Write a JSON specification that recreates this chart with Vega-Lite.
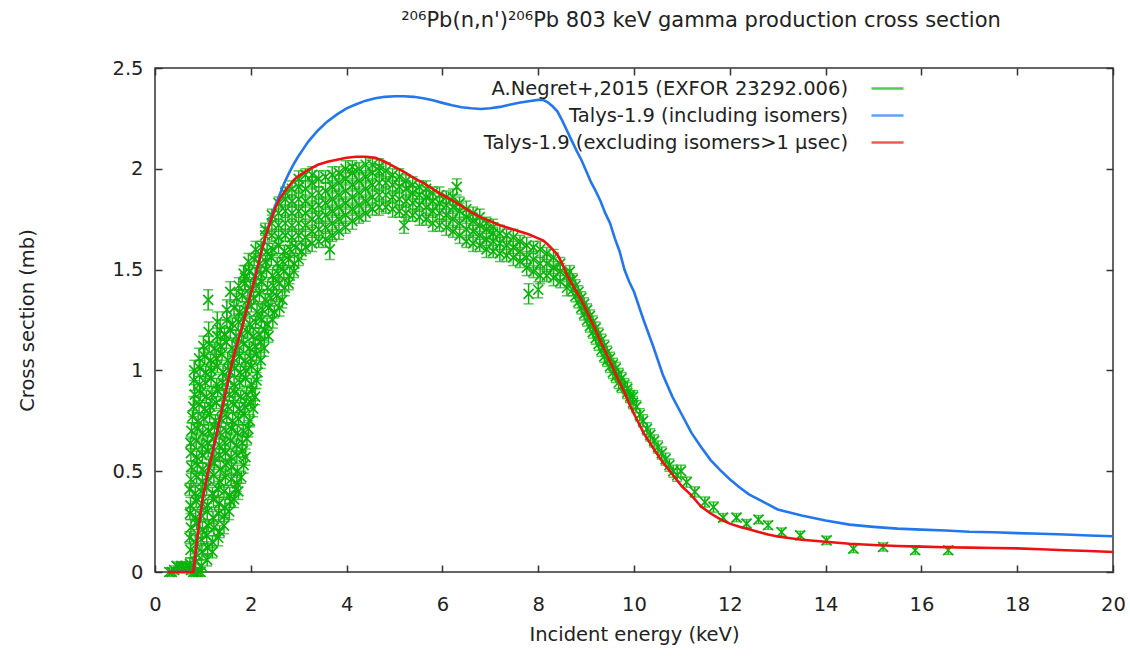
{
"$schema": "https://vega.github.io/schema/vega-lite/v6.json",
"width": 958, "height": 504,
"autosize": {"type": "none"},
"padding": {"left": 155, "top": 68, "right": 17, "bottom": 84},
"background": "white",
"title": {"text": "²⁰⁶Pb(n,n')²⁰⁶Pb 803 keV gamma production cross section", "anchor": "middle", "dx": 67, "offset": 27, "font": "DejaVu Sans", "fontSize": 21, "fontWeight": "normal", "color": "#222"},
"config": {"view": {"stroke": "#333", "strokeWidth": 1.5}, "axis": {"grid": false, "domain": false, "tickColor": "#333", "tickWidth": 1.5, "labelFont": "DejaVu Sans", "labelFontSize": 19.5, "labelColor": "#222", "titleFont": "DejaVu Sans", "titleFontSize": 19.5, "titleFontWeight": "normal", "titleColor": "#222"}},
"datasets": {
"exp": [
{"x":0.3,"y":0,"e":0.02},{"x":0.35,"y":0,"e":0.02},{"x":0.4,"y":0.01,"e":0.02},{"x":0.45,"y":0.03,"e":0.02},{"x":0.5,"y":0.02,"e":0.02},{"x":0.55,"y":0.03,"e":0.02},{"x":0.6,"y":0.02,"e":0.02},{"x":0.65,"y":0.03,"e":0.02},{"x":0.7,"y":0.02,"e":0.02},{"x":0.75,"y":0.01,"e":0.02},{"x":0.8,"y":0,"e":0.02},{"x":0.85,"y":0,"e":0.02},{"x":0.9,"y":0,"e":0.02},{"x":0.95,"y":0,"e":0.02},
{"x":0.73,"y":0.04,"e":0.03},{"x":0.85,"y":0.05,"e":0.04},{"x":0.97,"y":0.03,"e":0.03},{"x":1.09,"y":0.06,"e":0.03},
{"x":0.74,"y":0.11,"e":0.04},{"x":0.86,"y":0.09,"e":0.03},{"x":0.98,"y":0.1,"e":0.04},{"x":1.1,"y":0.12,"e":0.03},{"x":1.2,"y":0.1,"e":0.03},
{"x":0.72,"y":0.17,"e":0.03},{"x":0.84,"y":0.15,"e":0.04},{"x":0.96,"y":0.16,"e":0.03},{"x":1.08,"y":0.18,"e":0.04},{"x":1.2,"y":0.15,"e":0.03},{"x":1.32,"y":0.17,"e":0.04},
{"x":0.75,"y":0.22,"e":0.04},{"x":0.87,"y":0.24,"e":0.03},{"x":0.99,"y":0.21,"e":0.04},{"x":1.11,"y":0.23,"e":0.03},{"x":1.23,"y":0.22,"e":0.04},{"x":1.35,"y":0.2,"e":0.03},{"x":1.44,"y":0.23,"e":0.04},
{"x":0.73,"y":0.29,"e":0.03},{"x":0.85,"y":0.27,"e":0.04},{"x":0.97,"y":0.28,"e":0.03},{"x":1.09,"y":0.3,"e":0.04},{"x":1.21,"y":0.27,"e":0.03},{"x":1.33,"y":0.29,"e":0.04},{"x":1.45,"y":0.28,"e":0.03},{"x":1.55,"y":0.3,"e":0.04},
{"x":0.74,"y":0.33,"e":0.04},{"x":0.86,"y":0.35,"e":0.03},{"x":0.98,"y":0.34,"e":0.04},{"x":1.1,"y":0.33,"e":0.03},{"x":1.22,"y":0.36,"e":0.04},{"x":1.34,"y":0.34,"e":0.03},{"x":1.46,"y":0.32,"e":0.04},{"x":1.58,"y":0.35,"e":0.03},{"x":1.65,"y":0.36,"e":0.04},
{"x":0.72,"y":0.41,"e":0.03},{"x":0.84,"y":0.39,"e":0.04},{"x":0.96,"y":0.4,"e":0.03},{"x":1.08,"y":0.42,"e":0.04},{"x":1.2,"y":0.39,"e":0.03},{"x":1.32,"y":0.41,"e":0.04},{"x":1.44,"y":0.4,"e":0.03},{"x":1.56,"y":0.38,"e":0.04},{"x":1.68,"y":0.41,"e":0.03},{"x":1.74,"y":0.4,"e":0.04},
{"x":0.75,"y":0.46,"e":0.04},{"x":0.87,"y":0.47,"e":0.03},{"x":0.99,"y":0.45,"e":0.04},{"x":1.11,"y":0.46,"e":0.03},{"x":1.23,"y":0.48,"e":0.04},{"x":1.35,"y":0.45,"e":0.03},{"x":1.47,"y":0.47,"e":0.04},{"x":1.59,"y":0.46,"e":0.03},{"x":1.71,"y":0.44,"e":0.04},{"x":1.8,"y":0.47,"e":0.03},
{"x":0.76,"y":0.52,"e":0.03},{"x":0.88,"y":0.53,"e":0.04},{"x":1.0,"y":0.51,"e":0.03},{"x":1.12,"y":0.52,"e":0.04},{"x":1.24,"y":0.54,"e":0.03},{"x":1.36,"y":0.51,"e":0.04},{"x":1.48,"y":0.53,"e":0.03},{"x":1.6,"y":0.52,"e":0.04},{"x":1.72,"y":0.5,"e":0.03},{"x":1.85,"y":0.53,"e":0.04},
{"x":0.75,"y":0.59,"e":0.04},{"x":0.87,"y":0.57,"e":0.03},{"x":0.99,"y":0.58,"e":0.04},{"x":1.11,"y":0.6,"e":0.03},{"x":1.23,"y":0.57,"e":0.04},{"x":1.35,"y":0.58,"e":0.03},{"x":1.47,"y":0.59,"e":0.04},{"x":1.59,"y":0.57,"e":0.03},{"x":1.71,"y":0.58,"e":0.04},{"x":1.83,"y":0.6,"e":0.03},{"x":1.89,"y":0.57,"e":0.04},
{"x":0.74,"y":0.64,"e":0.03},{"x":0.86,"y":0.65,"e":0.04},{"x":0.98,"y":0.63,"e":0.03},{"x":1.1,"y":0.64,"e":0.04},{"x":1.22,"y":0.66,"e":0.03},{"x":1.34,"y":0.63,"e":0.04},{"x":1.46,"y":0.64,"e":0.03},{"x":1.58,"y":0.65,"e":0.04},{"x":1.7,"y":0.63,"e":0.03},{"x":1.82,"y":0.64,"e":0.04},{"x":1.92,"y":0.66,"e":0.03},
{"x":0.76,"y":0.7,"e":0.04},{"x":0.88,"y":0.71,"e":0.03},{"x":1.0,"y":0.69,"e":0.04},{"x":1.12,"y":0.7,"e":0.03},{"x":1.24,"y":0.72,"e":0.04},{"x":1.36,"y":0.69,"e":0.03},{"x":1.48,"y":0.7,"e":0.04},{"x":1.6,"y":0.71,"e":0.03},{"x":1.72,"y":0.69,"e":0.04},{"x":1.84,"y":0.7,"e":0.03},{"x":1.95,"y":0.71,"e":0.04},
{"x":0.78,"y":0.77,"e":0.03},{"x":0.9,"y":0.75,"e":0.04},{"x":1.02,"y":0.76,"e":0.03},{"x":1.14,"y":0.78,"e":0.04},{"x":1.26,"y":0.75,"e":0.03},{"x":1.38,"y":0.76,"e":0.04},{"x":1.5,"y":0.77,"e":0.03},{"x":1.62,"y":0.75,"e":0.04},{"x":1.74,"y":0.76,"e":0.03},{"x":1.86,"y":0.78,"e":0.04},{"x":1.98,"y":0.75,"e":0.03},
{"x":0.8,"y":0.82,"e":0.05},{"x":0.92,"y":0.83,"e":0.04},{"x":1.04,"y":0.81,"e":0.03},{"x":1.16,"y":0.82,"e":0.04},{"x":1.28,"y":0.84,"e":0.03},{"x":1.4,"y":0.81,"e":0.04},{"x":1.52,"y":0.82,"e":0.03},{"x":1.64,"y":0.83,"e":0.04},{"x":1.76,"y":0.81,"e":0.03},{"x":1.88,"y":0.82,"e":0.04},{"x":2.0,"y":0.84,"e":0.03},{"x":2.05,"y":0.81,"e":0.04},
{"x":0.83,"y":0.88,"e":0.05},{"x":0.95,"y":0.89,"e":0.04},{"x":1.07,"y":0.87,"e":0.03},{"x":1.19,"y":0.88,"e":0.04},{"x":1.31,"y":0.9,"e":0.03},{"x":1.43,"y":0.87,"e":0.04},{"x":1.55,"y":0.88,"e":0.03},{"x":1.67,"y":0.89,"e":0.04},{"x":1.79,"y":0.87,"e":0.03},{"x":1.91,"y":0.88,"e":0.04},{"x":2.03,"y":0.9,"e":0.03},{"x":2.09,"y":0.87,"e":0.04},
{"x":0.81,"y":0.95,"e":0.05},{"x":0.93,"y":0.93,"e":0.04},{"x":1.05,"y":0.94,"e":0.03},{"x":1.17,"y":0.96,"e":0.04},{"x":1.29,"y":0.93,"e":0.03},{"x":1.41,"y":0.94,"e":0.04},{"x":1.53,"y":0.95,"e":0.03},{"x":1.65,"y":0.93,"e":0.04},{"x":1.77,"y":0.94,"e":0.03},{"x":1.89,"y":0.96,"e":0.04},{"x":2.01,"y":0.93,"e":0.03},{"x":2.12,"y":0.95,"e":0.04},
{"x":0.82,"y":1.0,"e":0.05},{"x":0.94,"y":1.01,"e":0.04},{"x":1.06,"y":0.99,"e":0.03},{"x":1.18,"y":1.0,"e":0.04},{"x":1.3,"y":1.02,"e":0.03},{"x":1.42,"y":0.99,"e":0.04},{"x":1.54,"y":1.0,"e":0.03},{"x":1.66,"y":1.01,"e":0.04},{"x":1.78,"y":0.99,"e":0.03},{"x":1.9,"y":1.0,"e":0.04},{"x":2.02,"y":1.02,"e":0.03},{"x":2.14,"y":0.99,"e":0.04},
{"x":0.92,"y":1.06,"e":0.05},{"x":1.04,"y":1.07,"e":0.04},{"x":1.16,"y":1.05,"e":0.03},{"x":1.28,"y":1.06,"e":0.04},{"x":1.4,"y":1.08,"e":0.03},{"x":1.52,"y":1.05,"e":0.04},{"x":1.64,"y":1.06,"e":0.03},{"x":1.76,"y":1.07,"e":0.04},{"x":1.88,"y":1.05,"e":0.03},{"x":2.0,"y":1.06,"e":0.04},{"x":2.12,"y":1.08,"e":0.03},{"x":2.21,"y":1.05,"e":0.04},
{"x":1.01,"y":1.12,"e":0.05},{"x":1.13,"y":1.13,"e":0.04},{"x":1.25,"y":1.11,"e":0.03},{"x":1.37,"y":1.12,"e":0.04},{"x":1.49,"y":1.14,"e":0.03},{"x":1.61,"y":1.11,"e":0.04},{"x":1.73,"y":1.12,"e":0.03},{"x":1.85,"y":1.13,"e":0.04},{"x":1.97,"y":1.11,"e":0.03},{"x":2.09,"y":1.12,"e":0.04},{"x":2.21,"y":1.14,"e":0.03},{"x":2.28,"y":1.11,"e":0.04},
{"x":1.12,"y":1.19,"e":0.05},{"x":1.3,"y":1.17,"e":0.04},{"x":1.45,"y":1.18,"e":0.03},{"x":1.57,"y":1.2,"e":0.04},{"x":1.69,"y":1.17,"e":0.03},{"x":1.81,"y":1.18,"e":0.04},{"x":1.93,"y":1.19,"e":0.03},{"x":2.05,"y":1.17,"e":0.04},{"x":2.17,"y":1.18,"e":0.03},{"x":2.29,"y":1.2,"e":0.04},{"x":2.37,"y":1.17,"e":0.03},
{"x":1.3,"y":1.24,"e":0.05},{"x":1.5,"y":1.25,"e":0.04},{"x":1.62,"y":1.23,"e":0.03},{"x":1.74,"y":1.24,"e":0.04},{"x":1.86,"y":1.26,"e":0.03},{"x":1.98,"y":1.23,"e":0.04},{"x":2.1,"y":1.24,"e":0.03},{"x":2.22,"y":1.25,"e":0.04},{"x":2.34,"y":1.23,"e":0.03},{"x":2.46,"y":1.25,"e":0.04},
{"x":1.5,"y":1.3,"e":0.05},{"x":1.65,"y":1.31,"e":0.04},{"x":1.77,"y":1.29,"e":0.03},{"x":1.89,"y":1.3,"e":0.04},{"x":2.01,"y":1.32,"e":0.03},{"x":2.13,"y":1.29,"e":0.04},{"x":2.25,"y":1.3,"e":0.03},{"x":2.37,"y":1.31,"e":0.04},{"x":2.49,"y":1.29,"e":0.03},{"x":2.6,"y":1.31,"e":0.04},
{"x":1.7,"y":1.36,"e":0.04},{"x":1.82,"y":1.37,"e":0.03},{"x":1.94,"y":1.35,"e":0.04},{"x":2.06,"y":1.36,"e":0.03},{"x":2.18,"y":1.38,"e":0.04},{"x":2.3,"y":1.35,"e":0.03},{"x":2.42,"y":1.36,"e":0.04},{"x":2.54,"y":1.37,"e":0.03},{"x":2.66,"y":1.35,"e":0.04},
{"x":1.75,"y":1.42,"e":0.04},{"x":1.87,"y":1.43,"e":0.03},{"x":1.99,"y":1.41,"e":0.04},{"x":2.11,"y":1.42,"e":0.03},{"x":2.23,"y":1.44,"e":0.04},{"x":2.35,"y":1.41,"e":0.03},{"x":2.47,"y":1.42,"e":0.04},{"x":2.59,"y":1.43,"e":0.03},{"x":2.71,"y":1.41,"e":0.04},{"x":2.79,"y":1.43,"e":0.03},
{"x":1.85,"y":1.48,"e":0.04},{"x":1.97,"y":1.49,"e":0.03},{"x":2.09,"y":1.47,"e":0.04},{"x":2.21,"y":1.48,"e":0.03},{"x":2.33,"y":1.5,"e":0.04},{"x":2.45,"y":1.47,"e":0.03},{"x":2.57,"y":1.48,"e":0.04},{"x":2.69,"y":1.49,"e":0.03},{"x":2.81,"y":1.47,"e":0.04},{"x":2.9,"y":1.49,"e":0.03},
{"x":1.95,"y":1.54,"e":0.04},{"x":2.07,"y":1.55,"e":0.03},{"x":2.19,"y":1.53,"e":0.04},{"x":2.31,"y":1.54,"e":0.03},{"x":2.43,"y":1.56,"e":0.04},{"x":2.55,"y":1.53,"e":0.03},{"x":2.67,"y":1.54,"e":0.04},{"x":2.79,"y":1.55,"e":0.03},{"x":2.91,"y":1.53,"e":0.04},{"x":3.0,"y":1.55,"e":0.03},
{"x":2.1,"y":1.6,"e":0.04},{"x":2.22,"y":1.61,"e":0.03},{"x":2.34,"y":1.59,"e":0.04},{"x":2.46,"y":1.6,"e":0.03},{"x":2.58,"y":1.62,"e":0.04},{"x":2.7,"y":1.59,"e":0.03},{"x":2.82,"y":1.6,"e":0.04},{"x":2.94,"y":1.61,"e":0.03},{"x":3.06,"y":1.59,"e":0.04},{"x":3.15,"y":1.61,"e":0.03},
{"x":1.11,"y":1.35,"e":0.05},{"x":1.57,"y":1.39,"e":0.05},{"x":1.88,"y":1.46,"e":0.06},{"x":1.36,"y":1.2,"e":0.05},
{"x":2.3,"y":1.67,"e":0.04},{"x":2.3,"y":1.7,"e":0.03},
{"x":2.44,"y":1.67,"e":0.03},{"x":2.44,"y":1.73,"e":0.04},{"x":2.44,"y":1.77,"e":0.03},
{"x":2.58,"y":1.66,"e":0.04},{"x":2.58,"y":1.72,"e":0.03},{"x":2.58,"y":1.78,"e":0.04},{"x":2.58,"y":1.83,"e":0.03},
{"x":2.72,"y":1.67,"e":0.03},{"x":2.72,"y":1.73,"e":0.04},{"x":2.72,"y":1.79,"e":0.03},{"x":2.72,"y":1.85,"e":0.04},{"x":2.72,"y":1.88,"e":0.03},
{"x":2.86,"y":1.66,"e":0.04},{"x":2.86,"y":1.72,"e":0.03},{"x":2.86,"y":1.78,"e":0.04},{"x":2.86,"y":1.84,"e":0.03},{"x":2.86,"y":1.9,"e":0.04},
{"x":3.0,"y":1.67,"e":0.03},{"x":3.0,"y":1.73,"e":0.04},{"x":3.0,"y":1.79,"e":0.03},{"x":3.0,"y":1.85,"e":0.04},{"x":3.0,"y":1.91,"e":0.03},{"x":3.0,"y":1.95,"e":0.04},
{"x":3.14,"y":1.66,"e":0.04},{"x":3.14,"y":1.72,"e":0.03},{"x":3.14,"y":1.78,"e":0.04},{"x":3.14,"y":1.84,"e":0.03},{"x":3.14,"y":1.9,"e":0.04},{"x":3.14,"y":1.97,"e":0.03},
{"x":3.28,"y":1.63,"e":0.04},{"x":3.28,"y":1.69,"e":0.03},{"x":3.28,"y":1.75,"e":0.04},{"x":3.28,"y":1.81,"e":0.03},{"x":3.28,"y":1.87,"e":0.04},{"x":3.28,"y":1.93,"e":0.03},{"x":3.28,"y":1.97,"e":0.04},
{"x":3.42,"y":1.64,"e":0.03},{"x":3.42,"y":1.7,"e":0.04},{"x":3.42,"y":1.76,"e":0.03},{"x":3.42,"y":1.82,"e":0.04},{"x":3.42,"y":1.88,"e":0.03},{"x":3.42,"y":1.95,"e":0.04},
{"x":3.56,"y":1.65,"e":0.04},{"x":3.56,"y":1.71,"e":0.03},{"x":3.56,"y":1.77,"e":0.04},{"x":3.56,"y":1.83,"e":0.03},{"x":3.56,"y":1.89,"e":0.04},{"x":3.56,"y":1.96,"e":0.03},
{"x":3.7,"y":1.67,"e":0.03},{"x":3.7,"y":1.73,"e":0.04},{"x":3.7,"y":1.79,"e":0.03},{"x":3.7,"y":1.85,"e":0.04},{"x":3.7,"y":1.91,"e":0.03},{"x":3.7,"y":1.97,"e":0.04},
{"x":3.84,"y":1.69,"e":0.04},{"x":3.84,"y":1.75,"e":0.03},{"x":3.84,"y":1.81,"e":0.04},{"x":3.84,"y":1.87,"e":0.03},{"x":3.84,"y":1.93,"e":0.04},{"x":3.84,"y":1.98,"e":0.03},
{"x":3.98,"y":1.71,"e":0.03},{"x":3.98,"y":1.77,"e":0.04},{"x":3.98,"y":1.83,"e":0.03},{"x":3.98,"y":1.89,"e":0.04},{"x":3.98,"y":1.95,"e":0.03},{"x":3.98,"y":2.0,"e":0.04},
{"x":4.12,"y":1.74,"e":0.04},{"x":4.12,"y":1.8,"e":0.03},{"x":4.12,"y":1.86,"e":0.04},{"x":4.12,"y":1.92,"e":0.03},{"x":4.12,"y":1.98,"e":0.04},{"x":4.12,"y":2.01,"e":0.03},
{"x":4.26,"y":1.76,"e":0.03},{"x":4.26,"y":1.82,"e":0.04},{"x":4.26,"y":1.88,"e":0.03},{"x":4.26,"y":1.94,"e":0.04},{"x":4.26,"y":2.0,"e":0.03},
{"x":4.4,"y":1.78,"e":0.04},{"x":4.4,"y":1.84,"e":0.03},{"x":4.4,"y":1.9,"e":0.04},{"x":4.4,"y":1.96,"e":0.03},{"x":4.4,"y":2.02,"e":0.04},
{"x":4.54,"y":1.8,"e":0.03},{"x":4.54,"y":1.86,"e":0.04},{"x":4.54,"y":1.92,"e":0.03},{"x":4.54,"y":1.98,"e":0.04},{"x":4.54,"y":2.02,"e":0.03},
{"x":4.68,"y":1.81,"e":0.04},{"x":4.68,"y":1.87,"e":0.03},{"x":4.68,"y":1.93,"e":0.04},{"x":4.68,"y":1.99,"e":0.03},{"x":4.68,"y":2.01,"e":0.04},
{"x":4.82,"y":1.81,"e":0.03},{"x":4.82,"y":1.87,"e":0.04},{"x":4.82,"y":1.93,"e":0.03},{"x":4.82,"y":1.99,"e":0.04},
{"x":4.96,"y":1.8,"e":0.04},{"x":4.96,"y":1.86,"e":0.03},{"x":4.96,"y":1.92,"e":0.04},{"x":4.96,"y":1.97,"e":0.03},
{"x":5.1,"y":1.79,"e":0.03},{"x":5.1,"y":1.85,"e":0.04},{"x":5.1,"y":1.91,"e":0.03},{"x":5.1,"y":1.96,"e":0.04},
{"x":5.24,"y":1.78,"e":0.04},{"x":5.24,"y":1.84,"e":0.03},{"x":5.24,"y":1.9,"e":0.04},{"x":5.24,"y":1.94,"e":0.03},
{"x":5.38,"y":1.77,"e":0.03},{"x":5.38,"y":1.83,"e":0.04},{"x":5.38,"y":1.88,"e":0.03},{"x":5.38,"y":1.92,"e":0.04},
{"x":5.52,"y":1.76,"e":0.04},{"x":5.52,"y":1.82,"e":0.03},{"x":5.52,"y":1.87,"e":0.04},{"x":5.52,"y":1.91,"e":0.03},
{"x":5.66,"y":1.75,"e":0.03},{"x":5.66,"y":1.81,"e":0.04},{"x":5.66,"y":1.86,"e":0.03},{"x":5.66,"y":1.9,"e":0.04},
{"x":5.8,"y":1.73,"e":0.04},{"x":5.8,"y":1.79,"e":0.03},{"x":5.8,"y":1.84,"e":0.04},{"x":5.8,"y":1.88,"e":0.03},
{"x":5.94,"y":1.72,"e":0.03},{"x":5.94,"y":1.78,"e":0.04},{"x":5.94,"y":1.83,"e":0.03},{"x":5.94,"y":1.87,"e":0.04},
{"x":6.08,"y":1.71,"e":0.04},{"x":6.08,"y":1.77,"e":0.03},{"x":6.08,"y":1.82,"e":0.04},{"x":6.08,"y":1.86,"e":0.03},
{"x":6.22,"y":1.69,"e":0.03},{"x":6.22,"y":1.75,"e":0.04},{"x":6.22,"y":1.81,"e":0.03},{"x":6.22,"y":1.86,"e":0.04},
{"x":6.36,"y":1.67,"e":0.04},{"x":6.36,"y":1.73,"e":0.03},{"x":6.36,"y":1.79,"e":0.04},{"x":6.36,"y":1.83,"e":0.03},
{"x":6.5,"y":1.64,"e":0.03},{"x":6.5,"y":1.7,"e":0.04},{"x":6.5,"y":1.76,"e":0.03},{"x":6.5,"y":1.8,"e":0.04},
{"x":6.64,"y":1.63,"e":0.04},{"x":6.64,"y":1.69,"e":0.03},{"x":6.64,"y":1.74,"e":0.04},{"x":6.64,"y":1.78,"e":0.03},
{"x":6.78,"y":1.62,"e":0.03},{"x":6.78,"y":1.67,"e":0.04},{"x":6.78,"y":1.72,"e":0.03},{"x":6.78,"y":1.76,"e":0.04},
{"x":6.92,"y":1.6,"e":0.04},{"x":6.92,"y":1.65,"e":0.03},{"x":6.92,"y":1.7,"e":0.04},{"x":6.92,"y":1.73,"e":0.03},
{"x":7.06,"y":1.59,"e":0.03},{"x":7.06,"y":1.64,"e":0.04},{"x":7.06,"y":1.68,"e":0.03},{"x":7.06,"y":1.71,"e":0.04},
{"x":7.2,"y":1.58,"e":0.04},{"x":7.2,"y":1.63,"e":0.03},{"x":7.2,"y":1.68,"e":0.04},
{"x":7.34,"y":1.57,"e":0.03},{"x":7.34,"y":1.62,"e":0.04},{"x":7.34,"y":1.67,"e":0.03},
{"x":7.48,"y":1.56,"e":0.04},{"x":7.48,"y":1.61,"e":0.03},{"x":7.48,"y":1.66,"e":0.04},
{"x":7.62,"y":1.54,"e":0.03},{"x":7.62,"y":1.59,"e":0.04},{"x":7.62,"y":1.64,"e":0.03},
{"x":7.76,"y":1.51,"e":0.04},{"x":7.76,"y":1.56,"e":0.03},{"x":7.76,"y":1.62,"e":0.04},
{"x":7.9,"y":1.49,"e":0.03},{"x":7.9,"y":1.55,"e":0.04},{"x":7.9,"y":1.61,"e":0.03},
{"x":8.04,"y":1.47,"e":0.04},{"x":8.04,"y":1.53,"e":0.03},{"x":8.04,"y":1.6,"e":0.04},
{"x":8.18,"y":1.47,"e":0.03},{"x":8.18,"y":1.53,"e":0.04},{"x":8.18,"y":1.58,"e":0.03},
{"x":8.32,"y":1.46,"e":0.04},{"x":8.32,"y":1.51,"e":0.03},{"x":8.32,"y":1.56,"e":0.04},
{"x":8.46,"y":1.44,"e":0.03},{"x":8.46,"y":1.49,"e":0.04},{"x":8.46,"y":1.53,"e":0.03},
{"x":8.6,"y":1.41,"e":0.04},{"x":8.6,"y":1.47,"e":0.03},
{"x":6.3,"y":1.91,"e":0.04},{"x":7.8,"y":1.38,"e":0.05},{"x":8.0,"y":1.4,"e":0.04},{"x":5.2,"y":1.72,"e":0.04},{"x":3.65,"y":1.6,"e":0.05},
{"x":8.66,"y":1.44,"e":0.03},{"x":8.66,"y":1.49,"e":0.03},{"x":8.72,"y":1.4,"e":0.03},{"x":8.72,"y":1.45,"e":0.03},{"x":8.78,"y":1.37,"e":0.03},{"x":8.78,"y":1.42,"e":0.03},{"x":8.84,"y":1.34,"e":0.03},{"x":8.84,"y":1.39,"e":0.03},{"x":8.9,"y":1.31,"e":0.03},{"x":8.9,"y":1.36,"e":0.03},{"x":8.96,"y":1.28,"e":0.03},{"x":8.96,"y":1.33,"e":0.03},{"x":9.02,"y":1.25,"e":0.03},{"x":9.02,"y":1.3,"e":0.03},{"x":9.08,"y":1.22,"e":0.03},{"x":9.08,"y":1.27,"e":0.03},{"x":9.14,"y":1.19,"e":0.03},{"x":9.14,"y":1.24,"e":0.03},{"x":9.2,"y":1.16,"e":0.03},{"x":9.2,"y":1.21,"e":0.03},{"x":9.26,"y":1.13,"e":0.03},{"x":9.26,"y":1.18,"e":0.03},{"x":9.32,"y":1.1,"e":0.03},{"x":9.32,"y":1.15,"e":0.03},{"x":9.38,"y":1.07,"e":0.03},{"x":9.38,"y":1.12,"e":0.03},{"x":9.44,"y":1.05,"e":0.03},{"x":9.44,"y":1.09,"e":0.03},{"x":9.5,"y":1.02,"e":0.03},{"x":9.5,"y":1.06,"e":0.03},{"x":9.56,"y":0.99,"e":0.03},{"x":9.56,"y":1.03,"e":0.03},{"x":9.62,"y":0.97,"e":0.03},{"x":9.62,"y":1.01,"e":0.03},{"x":9.68,"y":0.94,"e":0.03},{"x":9.68,"y":0.98,"e":0.03},{"x":9.74,"y":0.92,"e":0.03},{"x":9.74,"y":0.96,"e":0.03},{"x":9.8,"y":0.93,"e":0.03},{"x":9.86,"y":0.89,"e":0.03},{"x":9.86,"y":0.91,"e":0.03},{"x":9.92,"y":0.87,"e":0.03},{"x":9.98,"y":0.84,"e":0.03},{"x":9.98,"y":0.87,"e":0.03},{"x":10.05,"y":0.82,"e":0.03},{"x":10.12,"y":0.78,"e":0.03},{"x":10.19,"y":0.75,"e":0.03},{"x":10.27,"y":0.71,"e":0.03},{"x":10.34,"y":0.68,"e":0.03},{"x":10.42,"y":0.65,"e":0.03},{"x":10.5,"y":0.62,"e":0.03},{"x":10.58,"y":0.59,"e":0.03},{"x":10.66,"y":0.56,"e":0.03},{"x":10.74,"y":0.53,"e":0.03},{"x":10.82,"y":0.5,"e":0.03},{"x":10.9,"y":0.48,"e":0.03},{"x":10.98,"y":0.5,"e":0.03},
{"x":11.1,"y":0.446,"e":0.025},{"x":11.27,"y":0.397,"e":0.025},{"x":11.48,"y":0.347,"e":0.025},{"x":11.66,"y":0.322,"e":0.025},{"x":11.86,"y":0.27,"e":0.02},{"x":12.14,"y":0.27,"e":0.02},{"x":12.35,"y":0.24,"e":0.02},{"x":12.6,"y":0.26,"e":0.02},{"x":12.8,"y":0.232,"e":0.02},{"x":13.08,"y":0.198,"e":0.02},{"x":13.47,"y":0.182,"e":0.02},{"x":14.02,"y":0.157,"e":0.02},{"x":14.58,"y":0.116,"e":0.02},{"x":15.2,"y":0.124,"e":0.02},{"x":15.87,"y":0.108,"e":0.02},{"x":16.56,"y":0.108,"e":0.02}
],
"incl": [
{"x":0.27,"y":0},{"x":0.8,"y":0},{"x":0.85,"y":0.1},{"x":0.9,"y":0.2},{"x":0.95,"y":0.29},{"x":1.0,"y":0.37},{"x":1.1,"y":0.49},{"x":1.2,"y":0.59},{"x":1.3,"y":0.7},{"x":1.4,"y":0.81},{"x":1.5,"y":0.92},{"x":1.6,"y":1.03},{"x":1.7,"y":1.12},{"x":1.8,"y":1.2},{"x":1.9,"y":1.29},{"x":2.0,"y":1.38},{"x":2.1,"y":1.47},{"x":2.2,"y":1.57},{"x":2.3,"y":1.66},{"x":2.4,"y":1.74},{"x":2.5,"y":1.81},{"x":2.6,"y":1.87},{"x":2.7,"y":1.93},{"x":2.8,"y":1.98},{"x":2.9,"y":2.025},{"x":3.0,"y":2.065},{"x":3.1,"y":2.1},{"x":3.2,"y":2.135},{"x":3.4,"y":2.19},{"x":3.6,"y":2.235},{"x":3.8,"y":2.27},{"x":4.0,"y":2.3},{"x":4.2,"y":2.32},{"x":4.4,"y":2.338},{"x":4.6,"y":2.35},{"x":4.8,"y":2.357},{"x":5.0,"y":2.36},{"x":5.2,"y":2.36},{"x":5.4,"y":2.357},{"x":5.6,"y":2.35},{"x":5.8,"y":2.34},{"x":6.0,"y":2.327},{"x":6.2,"y":2.315},{"x":6.4,"y":2.305},{"x":6.6,"y":2.3},{"x":6.8,"y":2.297},{"x":7.0,"y":2.3},{"x":7.2,"y":2.307},{"x":7.4,"y":2.318},{"x":7.6,"y":2.328},{"x":7.8,"y":2.335},{"x":8.0,"y":2.342},{"x":8.1,"y":2.342},{"x":8.2,"y":2.33},{"x":8.3,"y":2.31},{"x":8.4,"y":2.285},{"x":8.5,"y":2.24},{"x":8.6,"y":2.19},{"x":8.7,"y":2.14},{"x":8.8,"y":2.09},{"x":8.9,"y":2.045},{"x":9.0,"y":1.99},{"x":9.1,"y":1.935},{"x":9.2,"y":1.89},{"x":9.3,"y":1.84},{"x":9.4,"y":1.78},{"x":9.5,"y":1.73},{"x":9.6,"y":1.655},{"x":9.7,"y":1.59},{"x":9.8,"y":1.5},{"x":9.9,"y":1.44},{"x":10.0,"y":1.39},{"x":10.2,"y":1.25},{"x":10.4,"y":1.12},{"x":10.6,"y":0.98},{"x":10.8,"y":0.87},{"x":11.0,"y":0.78},{"x":11.2,"y":0.69},{"x":11.4,"y":0.62},{"x":11.6,"y":0.555},{"x":11.8,"y":0.505},{"x":12.0,"y":0.46},{"x":12.2,"y":0.42},{"x":12.4,"y":0.385},{"x":12.6,"y":0.36},{"x":12.8,"y":0.335},{"x":13.0,"y":0.31},{"x":13.5,"y":0.28},{"x":14.0,"y":0.255},{"x":14.5,"y":0.235},{"x":15.0,"y":0.224},{"x":15.5,"y":0.215},{"x":16.0,"y":0.21},{"x":16.5,"y":0.206},{"x":17.0,"y":0.2},{"x":17.5,"y":0.197},{"x":18.0,"y":0.193},{"x":18.5,"y":0.19},{"x":19.0,"y":0.186},{"x":19.5,"y":0.181},{"x":20.0,"y":0.177}
],
"excl": [
{"x":0.27,"y":0},{"x":0.8,"y":0},{"x":0.85,"y":0.1},{"x":0.9,"y":0.2},{"x":0.95,"y":0.29},{"x":1.0,"y":0.37},{"x":1.1,"y":0.49},{"x":1.2,"y":0.59},{"x":1.3,"y":0.7},{"x":1.4,"y":0.81},{"x":1.5,"y":0.92},{"x":1.6,"y":1.03},{"x":1.7,"y":1.12},{"x":1.8,"y":1.2},{"x":1.9,"y":1.29},{"x":2.0,"y":1.38},{"x":2.1,"y":1.47},{"x":2.2,"y":1.57},{"x":2.3,"y":1.66},{"x":2.4,"y":1.73},{"x":2.5,"y":1.8},{"x":2.6,"y":1.85},{"x":2.7,"y":1.885},{"x":2.8,"y":1.915},{"x":2.9,"y":1.945},{"x":3.0,"y":1.965},{"x":3.2,"y":1.995},{"x":3.4,"y":2.02},{"x":3.6,"y":2.035},{"x":3.8,"y":2.045},{"x":4.0,"y":2.055},{"x":4.2,"y":2.06},{"x":4.4,"y":2.06},{"x":4.6,"y":2.055},{"x":4.8,"y":2.035},{"x":5.0,"y":2.01},{"x":5.2,"y":1.985},{"x":5.4,"y":1.955},{"x":5.6,"y":1.93},{"x":5.8,"y":1.9},{"x":6.0,"y":1.87},{"x":6.2,"y":1.845},{"x":6.4,"y":1.815},{"x":6.6,"y":1.785},{"x":6.8,"y":1.76},{"x":7.0,"y":1.74},{"x":7.2,"y":1.72},{"x":7.4,"y":1.705},{"x":7.6,"y":1.69},{"x":7.8,"y":1.675},{"x":8.0,"y":1.655},{"x":8.1,"y":1.645},{"x":8.2,"y":1.625},{"x":8.3,"y":1.6},{"x":8.4,"y":1.575},{"x":8.5,"y":1.53},{"x":8.6,"y":1.475},{"x":8.7,"y":1.43},{"x":8.8,"y":1.39},{"x":8.9,"y":1.35},{"x":9.0,"y":1.3},{"x":9.1,"y":1.25},{"x":9.2,"y":1.2},{"x":9.3,"y":1.145},{"x":9.4,"y":1.095},{"x":9.5,"y":1.045},{"x":9.6,"y":0.99},{"x":9.7,"y":0.94},{"x":9.8,"y":0.89},{"x":9.9,"y":0.835},{"x":10.0,"y":0.785},{"x":10.2,"y":0.69},{"x":10.4,"y":0.615},{"x":10.6,"y":0.545},{"x":10.8,"y":0.485},{"x":11.0,"y":0.425},{"x":11.2,"y":0.38},{"x":11.4,"y":0.325},{"x":11.6,"y":0.29},{"x":11.8,"y":0.262},{"x":12.0,"y":0.24},{"x":12.2,"y":0.225},{"x":12.4,"y":0.212},{"x":12.6,"y":0.198},{"x":12.8,"y":0.186},{"x":13.0,"y":0.176},{"x":13.5,"y":0.16},{"x":14.0,"y":0.15},{"x":14.5,"y":0.14},{"x":15.0,"y":0.134},{"x":15.5,"y":0.129},{"x":16.0,"y":0.126},{"x":16.5,"y":0.123},{"x":17.0,"y":0.121},{"x":17.5,"y":0.119},{"x":18.0,"y":0.117},{"x":18.5,"y":0.113},{"x":19.0,"y":0.108},{"x":19.5,"y":0.104},{"x":20.0,"y":0.099}
]
},
"layer": [
{"data": {"name": "exp"},
 "mark": {"type": "errorbar", "ticks": {"size": 10, "thickness": 1.5}, "thickness": 1.5},
 "encoding": {
  "x": {"field": "x", "type": "quantitative", "scale": {"domain": [0, 20], "nice": false, "zero": false}, "axis": null},
  "y": {"field": "y", "type": "quantitative", "scale": {"domain": [0, 2.5], "nice": false, "zero": false}, "axis": null},
  "yError": {"field": "e"},
  "color": {"datum": "A.Negret+,2015 (EXFOR 23292.006)", "type": "nominal"}}},
{"data": {"name": "exp"},
 "mark": {"type": "point", "shape": "M-1,-1L1,1M-1,1L1,-1", "filled": false, "size": 100, "strokeWidth": 1.7, "opacity": 1},
 "encoding": {
  "x": {"field": "x", "type": "quantitative", "scale": {"domain": [0, 20], "nice": false, "zero": false},
        "axis": {"orient": "bottom", "values": [0,2,4,6,8,10,12,14,16,18,20], "tickSize": -7, "labelPadding": 30, "labelFlush": false, "labelOverlap": false, "title": "Incident energy (keV)", "titlePadding": 12}},
  "y": {"field": "y", "type": "quantitative", "scale": {"domain": [0, 2.5], "nice": false, "zero": false},
        "axis": {"orient": "left", "values": [0,0.5,1,1.5,2,2.5], "format": "~g", "tickSize": -7, "labelPadding": 19, "labelFlush": false, "labelOverlap": false, "title": "Cross section (mb)", "titlePadding": 74}},
  "color": {"datum": "A.Negret+,2015 (EXFOR 23292.006)", "type": "nominal",
   "scale": {"domain": ["A.Negret+,2015 (EXFOR 23292.006)", "Talys-1.9 (including isomers)", "Talys-1.9 (excluding isomers>1  μsec)"], "range": ["#0db30d", "#2277ee", "#ee1111"]},
   "legend": {"title": null, "orient": "none", "legendX": 715, "legendY": 3, "direction": "vertical", "symbolType": "stroke", "symbolSize": 1024, "symbolStrokeWidth": 2.6, "labelAlign": "right", "labelOffset": -57, "labelLimit": 0, "labelFont": "DejaVu Sans", "labelFontSize": 19.5, "labelColor": "#222", "rowPadding": 0, "padding": 0}}}},
{"data": {"name": "incl"},
 "mark": {"type": "line", "strokeWidth": 2.6},
 "encoding": {
  "x": {"field": "x", "type": "quantitative", "scale": {"domain": [0, 20], "nice": false, "zero": false}, "axis": null},
  "y": {"field": "y", "type": "quantitative", "scale": {"domain": [0, 2.5], "nice": false, "zero": false}, "axis": null},
  "color": {"datum": "Talys-1.9 (including isomers)", "type": "nominal"}}},
{"data": {"name": "excl"},
 "mark": {"type": "line", "strokeWidth": 2.6},
 "encoding": {
  "x": {"field": "x", "type": "quantitative", "scale": {"domain": [0, 20], "nice": false, "zero": false},
        "axis": {"orient": "top", "values": [0,2,4,6,8,10,12,14,16,18,20], "tickSize": -7, "labels": false, "title": null}},
  "y": {"field": "y", "type": "quantitative", "scale": {"domain": [0, 2.5], "nice": false, "zero": false},
        "axis": {"orient": "right", "values": [0,0.5,1,1.5,2,2.5], "tickSize": -7, "labels": false, "title": null}},
  "color": {"datum": "Talys-1.9 (excluding isomers>1  μsec)", "type": "nominal"}}}
],
"resolve": {"axis": {"x": "independent", "y": "independent"}}
}
